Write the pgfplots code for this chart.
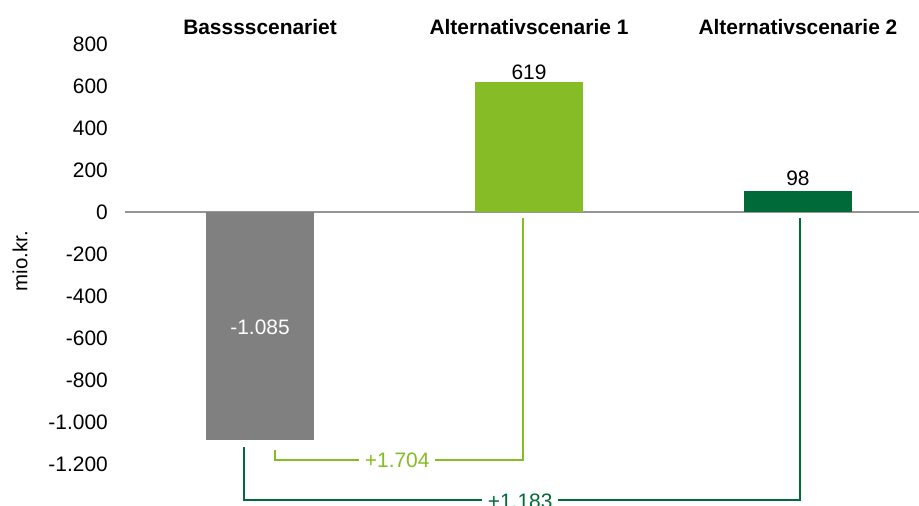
\documentclass[border=0pt]{standalone}
\usepackage{pgfplots}
\pgfplotsset{compat=1.18}
\usepackage{fontspec}
\setmainfont{Liberation Sans}
\definecolor{bargray}{RGB}{128,128,128}
\definecolor{lgreen}{RGB}{134,188,37}
\definecolor{dgreen}{RGB}{0,106,56}
\definecolor{zerogray}{RGB}{150,150,150}
\begin{document}
\begin{tikzpicture}[font=\fontsize{21}{24}\selectfont]
\begin{axis}[
  scale only axis, width=794bp, height=506bp,
  xmin=-0.502, xmax=2.45, ymin=-1400, ymax=1010,
  axis line style={draw=none},
  major tick length=0pt,
  xtick=\empty,
  ytick={-1200,-1000,-800,-600,-400,-200,0,200,400,600,800},
  yticklabels={-1.200,-1.000,-800,-600,-400,-200,0,200,400,600,800},
  yticklabel style={anchor=east, inner sep=0pt, xshift=-17bp, font=\fontsize{21}{24}\selectfont},
  clip=false,
  ylabel={mio.kr.},
  ylabel style={at={(rel axis cs:-0.132,0.484)}, anchor=center, font=\fontsize{20.5}{24}\selectfont},
]
\addplot[draw=zerogray, line width=1.5bp] coordinates {(-0.502,0) (2.45,0)};
\addplot[ybar, bar width=108bp, bar shift=0pt, fill=bargray, draw=none] coordinates {(0,-1085)};
\addplot[ybar, bar width=108bp, bar shift=0pt, fill=lgreen, draw=none] coordinates {(1,619)};
\addplot[ybar, bar width=108bp, bar shift=0pt, fill=dgreen, draw=none] coordinates {(2,98)};
\addplot[lgreen, line width=1.8bp] coordinates {(0.978,-29) (0.978,-1181) (0.056,-1181) (0.056,-1133)};
\addplot[dgreen, line width=1.8bp] coordinates {(2.007,-29) (2.007,-1371) (-0.06,-1371) (-0.06,-1119)};
\node[fill=white, text=lgreen, inner sep=6bp] at (axis cs:0.51,-1181) {+1.704};
\node[fill=white, text=dgreen, inner sep=6bp] at (axis cs:0.967,-1378) {+1.183};
\node at (axis cs:1,667) {619};
\node at (axis cs:2,162) {98};
\node[text=white] at (axis cs:0,-548) {-1.085};
\node[font=\fontsize{21}{24}\selectfont\bfseries] at (axis cs:0,881) {Basssscenariet};
\node[font=\fontsize{21}{24}\selectfont\bfseries] at (axis cs:1,881) {Alternativscenarie 1};
\node[font=\fontsize{21}{24}\selectfont\bfseries] at (axis cs:2,881) {Alternativscenarie 2};
\end{axis}
\pgfresetboundingbox
\path[use as bounding box] ([xshift=-125bp]current axis.south west) rectangle (current axis.north east);
\end{tikzpicture}
\end{document}
